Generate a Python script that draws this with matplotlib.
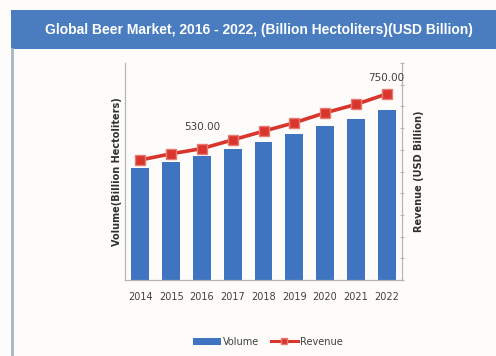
"""Global beer market: volume bars with revenue line on a twin axis."""

import matplotlib.pyplot as plt
from matplotlib.lines import Line2D
from matplotlib.patches import Patch, Rectangle

BAR_BLUE = "#3f74c0"
LINE_RED = "#d8352c"
HEADER_BLUE = "#4a7dbf"
AXIS_GREY = "#b5b5b5"

years = ["2014", "2015", "2016", "2017", "2018", "2019", "2020", "2021", "2022"]
volume = [1.80, 1.91, 2.00, 2.11, 2.23, 2.35, 2.48, 2.60, 2.74]
revenue = [484, 509, 530, 565, 600, 634, 674, 708, 750]
labelled = {2: "530.00", 8: "750.00"}
label_lift = {2: 12, 8: 8}

TITLE = "Global Beer Market, 2016 - 2022, (Billion Hectoliters)(USD Billion)"

W, H = 496, 356
fig = plt.figure(figsize=(W / 100, H / 100), dpi=100, facecolor="#fefcfa")

# header band and the frame line down the left side
fig.patches.append(Rectangle((11 / W, 1 - 49 / H), 1 - 11 / W, 39 / H,
                             transform=fig.transFigure, facecolor=HEADER_BLUE,
                             edgecolor="none", zorder=0))
fig.lines.append(Line2D([12 / W, 12 / W], [0, 1 - 49 / H], transform=fig.transFigure,
                        color="#a7b6c6", linewidth=2.0))
fig.text(259 / W, 1 - 30 / H, TITLE, ha="center", va="center", color="white",
         fontsize=10, fontweight="bold", family="Liberation Sans")

ax = fig.add_axes([125 / W, 1 - 280 / H, 277 / W, 217 / H])
ax.set_facecolor("none")
x = range(len(years))
ax.bar(x, volume, width=0.58, color=BAR_BLUE, zorder=2)
ax.set_xlim(-0.5, len(years) - 0.5)
ax.set_ylim(0, 3.5)
ax.set_yticks([])
ax.set_xticks(list(x))
ax.set_xticklabels(years, fontsize=7, color="#404040")
ax.tick_params(axis="x", length=0, pad=9)
for side in ("top", "right"):
    ax.spines[side].set_visible(False)
for side in ("left", "bottom"):
    ax.spines[side].set_color(AXIS_GREY)
    ax.spines[side].set_linewidth(0.9)
ax.set_ylabel("Volume(Billion Hectoliters)", fontsize=7, fontweight="bold",
              color="#303030", labelpad=2)

ax2 = ax.twinx()
ax2.plot(x, revenue, color=LINE_RED, linewidth=2.6, marker="s", markersize=6.5,
         markerfacecolor=LINE_RED, markeredgecolor="#e87a72",
         markeredgewidth=1.0, zorder=4)
ax2.set_ylim(0, 875)
ax2.set_yticks([875 * i / 10 for i in range(11)])
ax2.set_yticklabels([])
ax2.tick_params(axis="y", length=3, direction="inout", color=AXIS_GREY)
for side in ("top", "left", "bottom"):
    ax2.spines[side].set_visible(False)
ax2.spines["right"].set_color(AXIS_GREY)
ax2.spines["right"].set_linewidth(0.9)
ax2.set_ylabel("Revenue (USD Billion)", fontsize=7, fontweight="bold",
               color="#303030", rotation=90, labelpad=4)

for i, text in labelled.items():
    ax2.annotate(text, (i, revenue[i]), xytext=(0, label_lift[i]),
                 textcoords="offset points", ha="center", va="bottom",
                 fontsize=7.5, color="#404040")

handles = [Patch(facecolor=BAR_BLUE, edgecolor="none"),
           Line2D([], [], color=LINE_RED, linewidth=2.2, marker="s", markersize=5,
                  markerfacecolor=LINE_RED, markeredgecolor="#e87a72")]
fig.legend(handles, ["Volume", "Revenue"], loc="center", bbox_to_anchor=(268 / W, 1 - 342 / H),
           ncol=2, frameon=False, fontsize=7, handlelength=2.8, handleheight=0.8,
           columnspacing=1.2, handletextpad=0.2, labelcolor="#404040")

fig.savefig("out.png", dpi=100, facecolor=fig.get_facecolor())
